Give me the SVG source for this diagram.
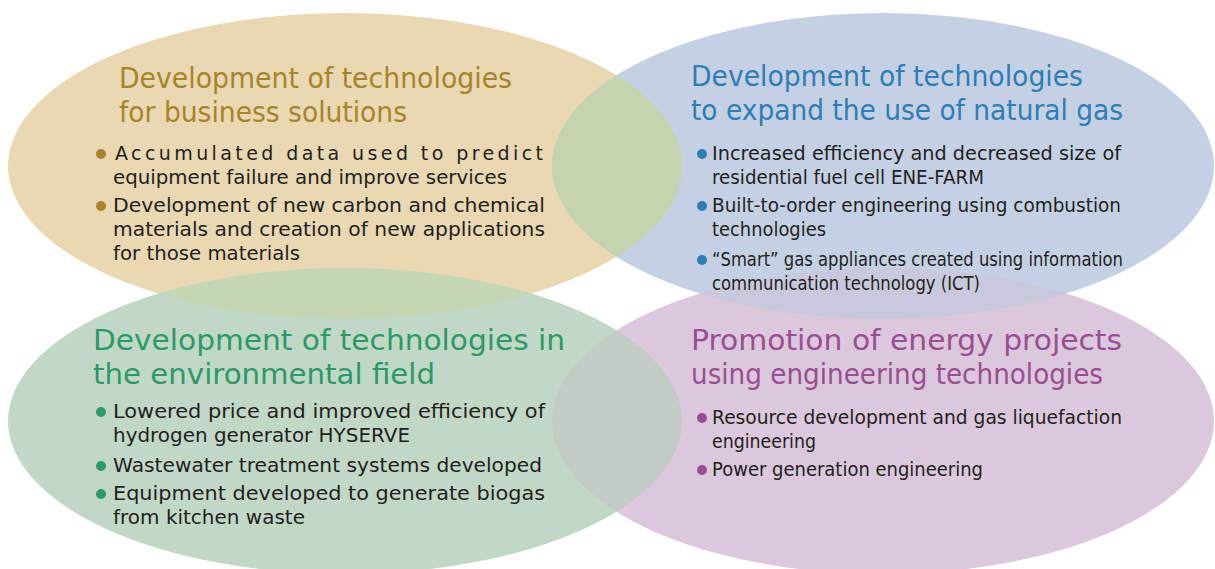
<svg xmlns="http://www.w3.org/2000/svg" width="1215" height="569" viewBox="0 0 1215 569">
  <defs>
    <style>
      .title { font-family: "DejaVu Sans", "Noto Sans", sans-serif; font-size: 29px; }
      .body { font-family: "DejaVu Sans", "Noto Sans", sans-serif; font-size: 19px; fill: #231f20; }
      .t-gold { fill: #a6842a; }
      .t-blue { fill: #2e7db4; }
      .t-green { fill: #2a9a66; }
      .t-purple { fill: #9a4e91; }
    </style>
    <clipPath id="clipTan"><ellipse cx="345" cy="166" rx="337" ry="153"/></clipPath>
    <clipPath id="clipBlue"><ellipse cx="883" cy="166" rx="331" ry="153"/></clipPath>
    <clipPath id="clipGreen"><ellipse cx="345" cy="421" rx="337" ry="153"/></clipPath>
  </defs>

  <!-- area shapes -->
  <g id="shapes">
    <ellipse cx="345" cy="166" rx="337" ry="153" fill="#e9d8b1"/>
    <ellipse cx="883" cy="166" rx="331" ry="153" fill="#c4d1e4"/>
    <ellipse cx="345" cy="421" rx="337" ry="153" fill="#c2d8c7"/>
    <ellipse cx="883" cy="421" rx="331" ry="153" fill="#dbc8dd"/>
    <!-- overlaps -->
    <ellipse cx="883" cy="166" rx="331" ry="153" fill="#c5d3ae" clip-path="url(#clipTan)"/>
    <ellipse cx="345" cy="421" rx="337" ry="153" fill="#c4d7b2" clip-path="url(#clipTan)"/>
    <ellipse cx="883" cy="421" rx="331" ry="153" fill="#c8c9dc" clip-path="url(#clipBlue)"/>
    <ellipse cx="883" cy="421" rx="331" ry="153" fill="#c3cbc5" clip-path="url(#clipGreen)"/>
  </g>

  <!-- business solutions -->
  <g id="business">
    <text class="title t-gold" x="119" y="88" textLength="393" lengthAdjust="spacingAndGlyphs">Development of technologies</text>
    <text class="title t-gold" x="119" y="122" textLength="288" lengthAdjust="spacingAndGlyphs">for business solutions</text>
    <circle cx="101" cy="154" r="5" fill="#a6842a"/>
    <text class="body" x="115" y="160" textLength="428" lengthAdjust="spacing">Accumulated data used to predict</text>
    <text class="body" x="113" y="184" textLength="394" lengthAdjust="spacingAndGlyphs">equipment failure and improve services</text>
    <circle cx="101" cy="206" r="5" fill="#a6842a"/>
    <text class="body" x="113" y="212" textLength="432" lengthAdjust="spacingAndGlyphs">Development of new carbon and chemical</text>
    <text class="body" x="113" y="236" textLength="432" lengthAdjust="spacingAndGlyphs">materials and creation of new applications</text>
    <text class="body" x="113" y="260" textLength="187" lengthAdjust="spacingAndGlyphs">for those materials</text>
  </g>

  <!-- natural gas -->
  <g id="natural-gas">
    <text class="title t-blue" x="691" y="86" textLength="392" lengthAdjust="spacingAndGlyphs">Development of technologies</text>
    <text class="title t-blue" x="691" y="120" textLength="432" lengthAdjust="spacingAndGlyphs">to expand the use of natural gas</text>
    <circle cx="702" cy="154" r="5" fill="#2e7db4"/>
    <text class="body" x="712" y="160" textLength="409" lengthAdjust="spacingAndGlyphs">Increased efficiency and decreased size of</text>
    <text class="body" x="712" y="184" textLength="272" lengthAdjust="spacingAndGlyphs">residential fuel cell ENE-FARM</text>
    <circle cx="702" cy="206" r="5" fill="#2e7db4"/>
    <text class="body" x="712" y="212" textLength="409" lengthAdjust="spacingAndGlyphs">Built-to-order engineering using combustion</text>
    <text class="body" x="712" y="236" textLength="114" lengthAdjust="spacingAndGlyphs">technologies</text>
    <circle cx="702" cy="260" r="5" fill="#2e7db4"/>
    <text class="body" x="712" y="266" textLength="411" lengthAdjust="spacingAndGlyphs">“Smart” gas appliances created using information</text>
    <text class="body" x="712" y="290" textLength="268" lengthAdjust="spacingAndGlyphs">communication technology (ICT)</text>
  </g>

  <!-- environmental field -->
  <g id="environment">
    <text class="title t-green" x="93" y="350" textLength="472" lengthAdjust="spacingAndGlyphs">Development of technologies in</text>
    <text class="title t-green" x="93" y="384" textLength="342" lengthAdjust="spacingAndGlyphs">the environmental field</text>
    <circle cx="101" cy="412" r="5" fill="#2a9a66"/>
    <text class="body" x="113" y="418" textLength="432" lengthAdjust="spacingAndGlyphs">Lowered price and improved efficiency of</text>
    <text class="body" x="113" y="442" textLength="297" lengthAdjust="spacingAndGlyphs">hydrogen generator HYSERVE</text>
    <circle cx="101" cy="466" r="5" fill="#2a9a66"/>
    <text class="body" x="113" y="472" textLength="429" lengthAdjust="spacingAndGlyphs">Wastewater treatment systems developed</text>
    <circle cx="101" cy="494" r="5" fill="#2a9a66"/>
    <text class="body" x="113" y="500" textLength="432" lengthAdjust="spacingAndGlyphs">Equipment developed to generate biogas</text>
    <text class="body" x="113" y="524" textLength="192" lengthAdjust="spacingAndGlyphs">from kitchen waste</text>
  </g>

  <!-- energy projects -->
  <g id="energy-projects">
    <text class="title t-purple" x="691" y="350" textLength="431" lengthAdjust="spacingAndGlyphs">Promotion of energy projects</text>
    <text class="title t-purple" x="691" y="384" textLength="412" lengthAdjust="spacingAndGlyphs">using engineering technologies</text>
    <circle cx="702" cy="418" r="5" fill="#9a4e91"/>
    <text class="body" x="712" y="424" textLength="410" lengthAdjust="spacingAndGlyphs">Resource development and gas liquefaction</text>
    <text class="body" x="712" y="448" textLength="104" lengthAdjust="spacingAndGlyphs">engineering</text>
    <circle cx="702" cy="470" r="5" fill="#9a4e91"/>
    <text class="body" x="712" y="476" textLength="271" lengthAdjust="spacingAndGlyphs">Power generation engineering</text>
  </g>
</svg>
